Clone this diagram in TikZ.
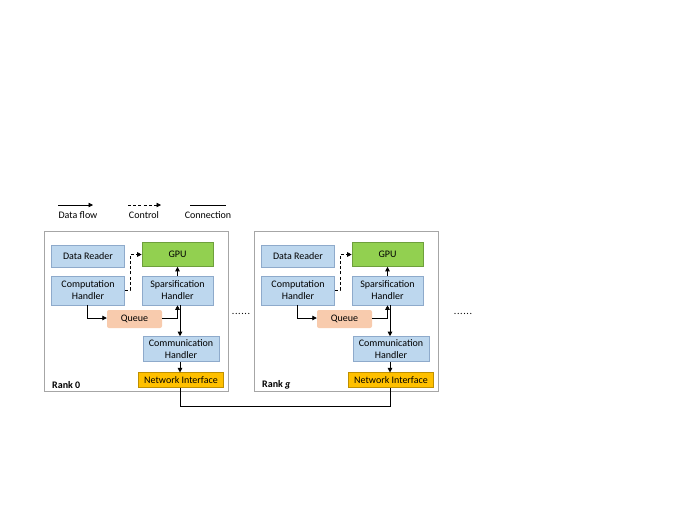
\documentclass[tikz,border=0pt]{standalone}
\usepackage{fontspec}
\setmainfont{Carlito}
\usetikzlibrary{arrows.meta}
\definecolor{boxblue}{HTML}{BDD7EE}
\definecolor{boxblueb}{HTML}{8EAACB}
\definecolor{gpugreen}{HTML}{92D050}
\definecolor{gpugreenb}{HTML}{6E9F3C}
\definecolor{queueor}{HTML}{F8CBAD}
\definecolor{niorange}{HTML}{FFC000}
\definecolor{niorangeb}{HTML}{BF9000}
\definecolor{framegray}{HTML}{A6A6A6}
\tikzset{
  every node/.style={font=\fontsize{10}{12}\selectfont, inner sep=0pt, align=center},
  bluebox/.style={draw=boxblueb, fill=boxblue, line width=0.6pt},
  gpubox/.style={draw=gpugreenb, fill=gpugreen, line width=0.6pt},
  queuebox/.style={fill=queueor, rounded corners=2pt},
  nibox/.style={draw=niorangeb, fill=niorange, line width=0.6pt},
  framebox/.style={draw=framegray, fill=white, line width=0.6pt},
  flow/.style={line width=0.8pt, -{Triangle[length=4.5pt,width=4.5pt]}},
  ctrl/.style={line width=0.8pt, dash pattern=on 3pt off 2.2pt, -{Triangle[length=4.5pt,width=4.5pt]}},
  conn/.style={line width=0.8pt},
}
\newcommand\rankpanel[3]{%
\begin{scope}[xshift=#3]
  \node[framebox, minimum width=184pt, minimum height=160pt] (#1frame) at (136,311) {};
  \node[bluebox, minimum width=73pt, minimum height=22pt] (#1dr) at (88,256) {Data Reader};
  \node[gpubox, minimum width=71pt, minimum height=24pt] (#1gpu) at (177.5,254.5) {GPU};
  \node[bluebox, minimum width=73pt, minimum height=29pt] (#1ch) at (88,290.5) {Computation\\Handler};
  \node[bluebox, minimum width=71pt, minimum height=29pt] (#1sh) at (177.5,290.5) {Sparsification\\Handler};
  \node[queuebox, minimum width=55pt, minimum height=18pt] (#1q) at (134.5,319) {Queue};
  \node[bluebox, minimum width=76pt, minimum height=25pt] (#1cm) at (181,349) {Communication\\Handler};
  \node[nibox, minimum width=85pt, minimum height=14.5pt] (#1ni) at (181,380) {Network Interface};
  \node[anchor=west, font=\fontsize{10}{12}\selectfont\bfseries] (#1lab) at (52,385) {#2};
  \coordinate (#1c1) at (130,290);
  \coordinate (#1c2) at (130,254.5);
  \coordinate (#1c3) at (87,318);
  \coordinate (#1c4) at (177.5,318);
  \draw[ctrl] (#1ch.east |- #1c1) -- (#1c1) -- (#1c2) -- (#1gpu.west);
  \draw[flow] (#1sh.north -| #1gpu.south) -- (#1gpu.south);
  \draw[flow] (#1ch.south -| #1c3) -- (#1c3) -- (#1q.west |- #1c3);
  \draw[flow] (#1q.east |- #1c4) -- (#1c4) -- (#1sh.south -| #1c4);
  \coordinate (#1x) at (180,0);
  \draw[flow] (#1sh.south -| #1x) -- (#1cm.north -| #1x);
  \draw[flow] (#1cm.south -| #1x) -- (#1ni.north -| #1x);
\end{scope}}
\begin{document}
\begin{tikzpicture}[x=1pt, y=-1pt]
  \useasboundingbox (0,0) rectangle (677,523);
  % legend
  \coordinate (l1a) at (58,205); \coordinate (l1b) at (93,205);
  \coordinate (l2a) at (128,205); \coordinate (l2b) at (161,205);
  \coordinate (l3a) at (190,205); \coordinate (l3b) at (226,205);
  \draw[flow] (l1a) -- (l1b);
  \draw[ctrl] (l2a) -- (l2b);
  \draw[conn] (l3a) -- (l3b);
  \node (t1) at (78,215) {Data flow};
  \node (t2) at (144,215) {Control};
  \node (t3) at (208,215) {Connection};
  % panels
  \rankpanel{a}{Rank 0}{0pt}
  \rankpanel{b}{Rank \textit{g}}{210pt}
  % dots
  \node (d1) at (241,314) {.\kern0.6pt.\kern0.6pt.\kern0.6pt.\kern0.6pt.\kern0.6pt.};
  \node (d2) at (463,314) {.\kern0.6pt.\kern0.6pt.\kern0.6pt.\kern0.6pt.\kern0.6pt.};
  % connection
  \coordinate (k1) at (180,406.5);
  \coordinate (k2) at (390,406.5);
  \draw[conn] (ani.south -| k1) -- (k1) -- (k2) -- (bni.south -| k2);
\end{tikzpicture}
\end{document}
